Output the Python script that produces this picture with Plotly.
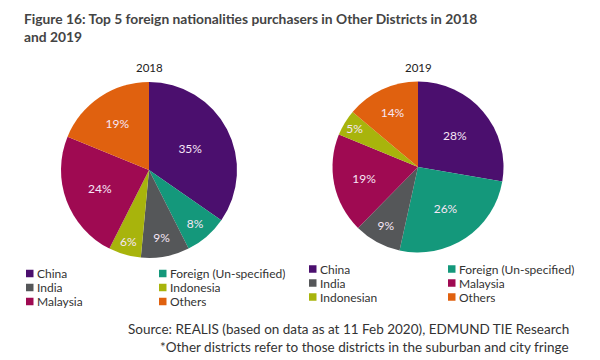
import plotly.graph_objects as go

# ---- data ----
labels_2018 = ["China", "Foreign (Un-specified)", "India", "Indonesia", "Malaysia", "Others"]
values_2018 = [35, 8, 9, 6, 24, 19]
labels_2019 = ["China", "Foreign (Un-specified)", "India", "Malaysia", "Indonesian", "Others"]
values_2019 = [28, 26, 9, 19, 5, 14]

color_map = {
    "China": "#4B0F6E",
    "Foreign (Un-specified)": "#14987B",
    "India": "#555759",
    "Indonesia": "#A8B40C",
    "Indonesian": "#A8B40C",
    "Malaysia": "#9F0A52",
    "Others": "#E0610F",
}

title_text = "Figure 16: Top 5 foreign nationalities purchasers in Other Districts in 2018<br>and 2019"
source_lines = [
    "Source: REALIS (based on data as at 11 Feb 2020), EDMUND TIE Research",
    "*Other districts refer to those districts in the suburban and city fringe",
]

# the page places the figure 8px from the top-left corner of the window
OFF = 8
W, H = 600 - OFF, 360 - OFF
FONT = "Lato"


def px(x):
    return (x - OFF) / W


def py(y):
    return 1 - (y - OFF) / H


fig = go.Figure()


def add_pie(labels, values, cx, cy, r):
    fig.add_trace(go.Pie(
        labels=labels,
        values=values,
        text=[f"{v}%" for v in values],
        textinfo="text",
        textposition="inside",
        insidetextorientation="horizontal",
        insidetextfont=dict(family=FONT, size=12, color="#F6E6F6"),
        marker=dict(colors=[color_map[l] for l in labels], line=dict(width=0)),
        sort=False,
        direction="clockwise",
        rotation=0,
        showlegend=False,
        hoverinfo="label+value",
        domain=dict(x=[px(cx - r), px(cx + r)], y=[py(cy + r), py(cy - r)]),
    ))


add_pie(labels_2018, values_2018, 149, 170, 88)
add_pie(labels_2019, values_2019, 418, 167, 85.5)

annotations = []
shapes = []

# title
annotations.append(dict(
    text=f"<b>{title_text}</b>", x=px(22), y=py(8), xref="paper", yref="paper",
    xanchor="left", yanchor="top", align="left", showarrow=False,
    font=dict(family=FONT, size=13.8, color="#444444"),
))

# pie titles
for txt, cx in (("2018", 149), ("2019", 418)):
    annotations.append(dict(
        text=txt, x=px(cx), y=py(68), xref="paper", yref="paper",
        xanchor="center", yanchor="middle", showarrow=False,
        font=dict(family=FONT, size=11.5, color="#222222"),
    ))


def add_legend(labels, x0, x1, y0, dy):
    for i, lab in enumerate(labels):
        col = i % 2
        row = i // 2
        sx = x0 if col == 0 else x1
        cy = y0 + row * dy
        shapes.append(dict(
            type="rect", xref="paper", yref="paper",
            x0=px(sx), x1=px(sx + 7.5), y0=py(cy + 3.75), y1=py(cy - 3.75),
            fillcolor=color_map[lab], line=dict(width=0),
        ))
        annotations.append(dict(
            text=lab, x=px(sx + 9.5), y=py(cy), xref="paper", yref="paper",
            xanchor="left", yanchor="middle", showarrow=False,
            height=13, borderpad=0, valign="middle",
            font=dict(family=FONT, size=12, color="#333333"),
        ))


add_legend(labels_2018, 26, 159, 273.5, 14)
add_legend(labels_2019, 309, 448, 269, 14)

# source lines
for i, line in enumerate(source_lines):
    annotations.append(dict(
        text=line, x=px(571), y=py(329 + i * 18), xref="paper", yref="paper",
        xanchor="right", yanchor="middle", showarrow=False,
        font=dict(family=FONT, size=13.5, color="#333333"),
    ))

fig.update_layout(
    width=W, height=H,
    margin=dict(l=0, r=0, t=0, b=0),
    paper_bgcolor="white",
    plot_bgcolor="white",
    annotations=annotations,
    shapes=shapes,
    font=dict(family=FONT),
)

fig.write_html("out.html")
